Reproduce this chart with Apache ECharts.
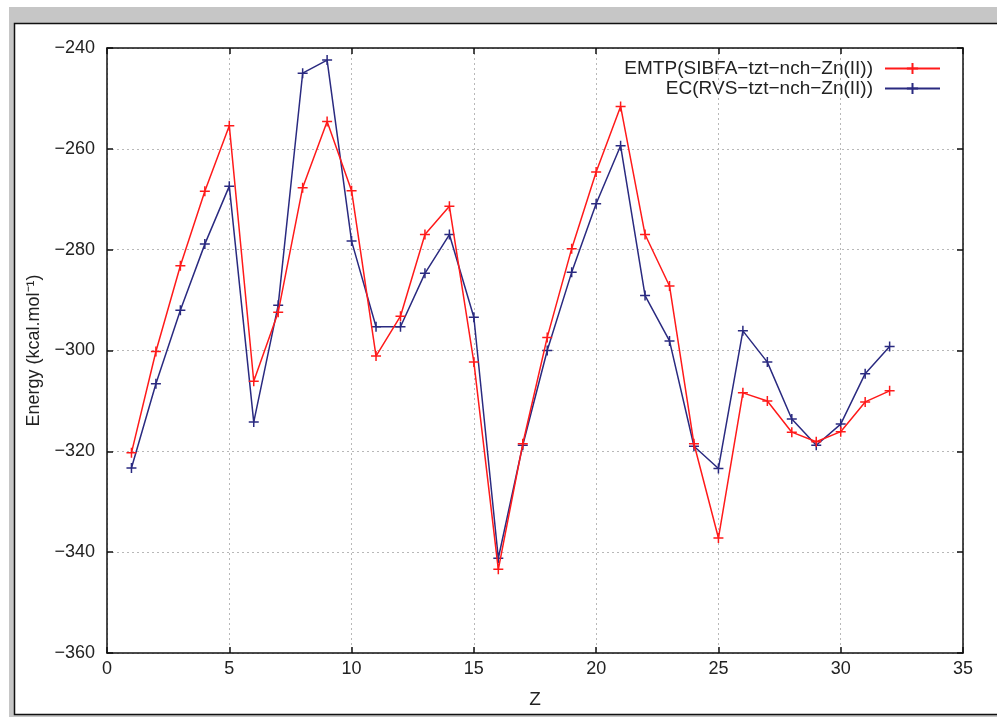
<!DOCTYPE html>
<html>
<head>
<meta charset="utf-8">
<script src="https://cdn.jsdelivr.net/npm/echarts@6/dist/echarts.min.js"></script>
<style>
html,body{margin:0;padding:0;background:#fff;}
#c{width:997px;height:717px;}
</style>
</head>
<body>
<div id="c"></div>
<script>
const zValues = [1,2,3,4,5,6,7,8,9,10,11,12,13,14,15,16,17,18,19,20,21,22,23,24,25,26,27,28,29,30,31,32];
const emtpValues = [-320.3,-300.2,-283.2,-268.4,-255.4,-306.1,-292.4,-267.7,-254.6,-268.3,-301.1,-293.2,-277.0,-271.4,-302.3,-343.4,-318.5,-297.4,-279.8,-264.6,-251.6,-277.0,-287.2,-318.5,-337.2,-308.4,-310.0,-316.2,-318.1,-316.1,-310.2,-308.0];
const ecValues = [-323.3,-306.6,-292.0,-278.9,-267.4,-314.2,-291.0,-245.0,-242.4,-278.3,-295.3,-295.3,-284.7,-277.0,-293.4,-341.2,-318.8,-300.0,-284.5,-270.9,-259.4,-289.1,-298.1,-319.0,-323.4,-296.1,-302.3,-313.6,-318.8,-314.6,-304.6,-299.2];
const seriesNames = ['EMTP(SIBFA\u2212tzt\u2212nch\u2212Zn(II))', 'EC(RVS\u2212tzt\u2212nch\u2212Zn(II))'];
const xTicks = [0,5,10,15,20,25,30,35];
const yTicks = [-360,-340,-320,-300,-280,-260,-240];

const FONT = '"Liberation Sans", Arial, sans-serif';
const plus = 'path://M0,5L10,5M5,0L5,10';
const chart = echarts.init(document.getElementById('c'), null, {renderer:'canvas'});

function pairs(vals){ return zValues.map((z,i)=>[z, vals[i]]); }
const fmt = v => String(v).replace('-', '\u2212');

const gridLine = {show:true, lineStyle:{color:'#b8b8b8', type:[2,3], width:1}};
const axisLine = {show:true, onZero:false, lineStyle:{color:'#111', width:1.5}};
const tick = {show:true, inside:true, length:6, lineStyle:{color:'#111', width:1.5}};
const legText = {fontFamily:FONT, fontSize:19, color:'#222', padding:[0,7,0,0]};

chart.setOption({
  animation:false,
  backgroundColor:'#fff',
  graphic:[
    {type:'rect', shape:{x:9,y:7,width:990,height:712}, style:{fill:'#c6c6c6'}, z:-10, silent:true},
    {type:'rect', shape:{x:14.5,y:23.5,width:990,height:691}, style:{fill:'#fff', stroke:'#111', lineWidth:1.5}, z:-9, silent:true}
  ],
  grid:{left:107, top:48, right:34, bottom:64, containLabel:false},
  legend:[
    {data:[seriesNames[0]], right:51, top:54, itemWidth:55, itemHeight:14, align:'right', itemGap:0, textStyle:legText},
    {data:[seriesNames[1]], right:51, top:74, itemWidth:55, itemHeight:14, align:'right', itemGap:0, textStyle:legText}
  ],
  xAxis:[
    {type:'value', min:0, max:35, interval:5, name:'Z', nameLocation:'middle', nameGap:37,
     nameTextStyle:{fontFamily:FONT, fontSize:19, color:'#222'},
     axisLine:axisLine, axisTick:tick, splitLine:gridLine,
     axisLabel:{fontFamily:FONT, fontSize:18, color:'#222', margin:7, formatter:fmt}},
    {type:'value', position:'top', min:0, max:35, interval:5,
     axisLine:axisLine, axisTick:tick, splitLine:{show:false}, axisLabel:{show:false}}
  ],
  yAxis:[
    {type:'value', min:-360, max:-240, interval:20, name:'Energy (kcal.mol\u207B\u00B9)', nameLocation:'middle', nameGap:64,
     nameTextStyle:{fontFamily:FONT, fontSize:18, color:'#222'},
     axisLine:axisLine, axisTick:tick, splitLine:gridLine,
     axisLabel:{fontFamily:FONT, fontSize:18, color:'#222', margin:12, formatter:fmt}},
    {type:'value', position:'right', min:-360, max:-240, interval:20,
     axisLine:axisLine, axisTick:tick, splitLine:{show:false}, axisLabel:{show:false}}
  ],
  series:[
    {name:seriesNames[0], type:'line', data:pairs(emtpValues), symbol:plus, symbolSize:10, showSymbol:true,
     lineStyle:{color:'#ff1a1a', width:1.5}, itemStyle:{color:'#ff1a1a', borderColor:'#ff1a1a', borderWidth:1.5}, z:3},
    {name:seriesNames[1], type:'line', data:pairs(ecValues), symbol:plus, symbolSize:10, showSymbol:true,
     lineStyle:{color:'#2a2a80', width:1.5}, itemStyle:{color:'#2a2a80', borderColor:'#2a2a80', borderWidth:1.5}, z:2}
  ]
});
</script>
</body>
</html>
